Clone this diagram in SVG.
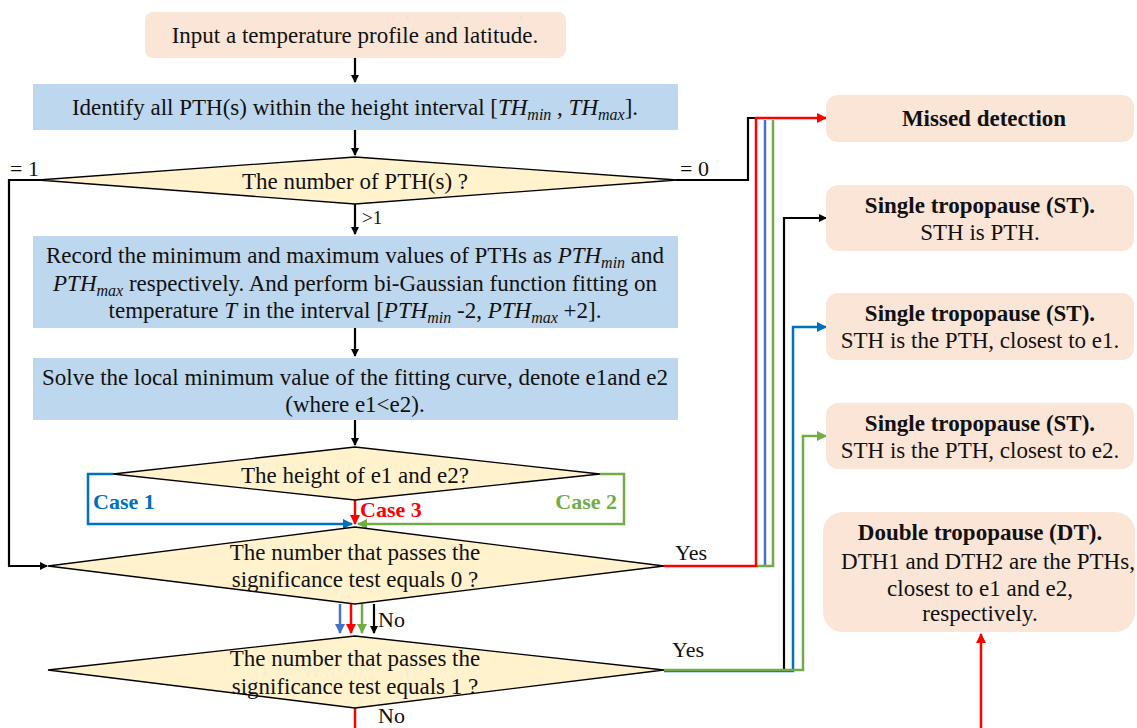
<svg xmlns="http://www.w3.org/2000/svg" width="1137" height="728" viewBox="0 0 1137 728">
<style>
text{font-family:"Liberation Serif","Times New Roman",serif;font-size:23px;fill:#111;}
.c{text-anchor:middle;}
.b{font-weight:bold;}
.i{font-style:italic;}
.s{font-style:italic;font-size:16px;}
.peach{fill:#FBE5D6;}
.blue{fill:#BDD7EE;}
.dia{fill:#FFF2CC;stroke:#000;stroke-width:1.3;}
.k{fill:none;stroke:#000;stroke-width:2.2;}
.r{fill:none;stroke:#FF0000;stroke-width:2.5;}
.lb{fill:none;stroke:#4472C4;stroke-width:2.5;}
.db{fill:none;stroke:#0070C0;stroke-width:2.5;}
.g{fill:none;stroke:#70AD47;stroke-width:2.5;}
</style>
<defs>
<marker id="ak" markerWidth="8" markerHeight="8" refX="7" refY="4" orient="auto" markerUnits="userSpaceOnUse"><path d="M0,0 L8,4 L0,8 z" fill="#000"/></marker>
<marker id="ar" markerWidth="10" markerHeight="10" refX="9" refY="5" orient="auto" markerUnits="userSpaceOnUse"><path d="M0,0 L10,5 L0,10 z" fill="#FF0000"/></marker>
<marker id="alb" markerWidth="10" markerHeight="10" refX="9" refY="5" orient="auto" markerUnits="userSpaceOnUse"><path d="M0,0 L10,5 L0,10 z" fill="#4472C4"/></marker>
<marker id="adb" markerWidth="10" markerHeight="10" refX="9" refY="5" orient="auto" markerUnits="userSpaceOnUse"><path d="M0,0 L10,5 L0,10 z" fill="#0070C0"/></marker>
<marker id="ag" markerWidth="10" markerHeight="10" refX="9" refY="5" orient="auto" markerUnits="userSpaceOnUse"><path d="M0,0 L10,5 L0,10 z" fill="#70AD47"/></marker>
</defs>

<g id="connectors">
<path class="k" d="M355,58 V82" marker-end="url(#ak)"/>
<path class="k" d="M355,130 V155" marker-end="url(#ak)"/>
<path class="k" d="M355,204 V234" marker-end="url(#ak)"/>
<path class="k" d="M355,328 V356" marker-end="url(#ak)"/>
<path class="k" d="M355,420 V445" marker-end="url(#ak)"/>
<path class="k" d="M44,180 H9 V566 H47" marker-end="url(#ak)"/>
<path class="k" d="M676,180 H748 V118 H757"/>
<path class="lb" d="M765,120 V566"/>
<path class="g" d="M773,120 V566 H757"/>
<path class="r" d="M664,566 H756 V118 H826" marker-end="url(#ar)"/>
<path class="k" d="M664,670 H784 V218 H826" marker-end="url(#ak)"/>
<path class="db" d="M664,671 H793 V327 H826" marker-end="url(#adb)"/>
<path class="g" d="M664,670 H803 V436 H826" marker-end="url(#ag)"/>
<path class="db" d="M113,474 H88 V524 H352" marker-end="url(#adb)"/>
<path class="g" d="M600,474 H624 V524 H358" marker-end="url(#ag)"/>
<path class="r" d="M355,500 V524" marker-end="url(#ar)"/>
<path class="lb" d="M340,604 V633" marker-end="url(#alb)"/>
<path class="r" d="M351,604 V633" marker-end="url(#ar)"/>
<path class="g" d="M362,604 V633" marker-end="url(#ag)"/>
<path class="k" d="M374,604 V633" marker-end="url(#ak)"/>
<path class="r" d="M355,708 V728"/>
<path class="r" d="M981,728 V634" marker-end="url(#ar)"/>
</g>

<g id="labels">
<text x="10" y="176" style="font-size:22px">= 1</text>
<text x="680" y="176" style="font-size:22px">= 0</text>
<text x="362" y="224" style="font-size:19px">&gt;1</text>
<text x="93" y="509" class="b" style="fill:#0070C0;font-size:22px">Case 1</text>
<text x="617" y="509" class="b" style="fill:#70AD47;text-anchor:end;font-size:22px">Case 2</text>
<text x="360" y="517" class="b" style="fill:#FF0000;font-size:22px">Case 3</text>
<text x="378" y="627" style="font-size:22px">No</text>
<text x="378" y="723" style="font-size:22px">No</text>
<text x="675" y="560" style="font-size:22px">Yes</text>
<text x="672" y="657" style="font-size:22px">Yes</text>
</g>

<g id="n-input">
<rect class="peach" x="145" y="12" width="421" height="46" rx="8"/>
<text class="c" x="355" y="43">Input a temperature profile and latitude.</text>
</g>

<g id="n-identify">
<rect class="blue" x="33" y="84" width="645" height="46"/>
<text class="c" x="355" y="115">Identify all PTH(s) within the height interval [<tspan class="i">TH</tspan><tspan class="s" dy="5">min</tspan><tspan dy="-5"> , </tspan><tspan class="i">TH</tspan><tspan class="s" dy="5">max</tspan><tspan dy="-5">].</tspan></text>
</g>

<g id="n-number">
<polygon class="dia" points="355,157 677,180 355,204 38,180"/>
<text class="c" x="355" y="189">The number of PTH(s) ?</text>
</g>

<g id="n-record">
<rect class="blue" x="33" y="236" width="645" height="92"/>
<text class="c" x="355" y="263">Record the minimum and maximum values of PTHs as <tspan class="i">PTH</tspan><tspan class="s" dy="5">min</tspan><tspan dy="-5"> and</tspan></text>
<text class="c" x="355" y="291"><tspan class="i">PTH</tspan><tspan class="s" dy="5">max</tspan><tspan dy="-5">  respectively. And perform bi-Gaussian function fitting on</tspan></text>
<text class="c" x="355" y="318">temperature <tspan class="i">T</tspan> in the interval [<tspan class="i">PTH</tspan><tspan class="s" dy="5">min</tspan><tspan dy="-5"> -2, </tspan><tspan class="i">PTH</tspan><tspan class="s" dy="5">max</tspan><tspan dy="-5"> +2].</tspan></text>
</g>

<g id="n-solve">
<rect class="blue" x="33" y="358" width="645" height="62"/>
<text class="c" x="355" y="385">Solve the local minimum value of the fitting curve, denote e1and e2</text>
<text class="c" x="355" y="412">(where e1&lt;e2).</text>
</g>

<g id="n-height">
<polygon class="dia" points="355,447 600,474 355,500 113,474"/>
<text class="c" x="355" y="483">The height of e1 and e2?</text>
</g>

<g id="n-pass0">
<polygon class="dia" points="355,527 664,566 355,604 48,566"/>
<text class="c" x="355" y="560">The number that passes the</text>
<text class="c" x="355" y="587">significance test equals 0 ?</text>
</g>

<g id="n-pass1">
<polygon class="dia" points="355,636 664,670 355,708 48,670"/>
<text class="c" x="355" y="666">The number that passes the</text>
<text class="c" x="355" y="694">significance test equals 1 ?</text>
</g>

<g id="n-missed">
<rect class="peach" x="826" y="95" width="308" height="47" rx="12"/>
<text class="c b" x="984" y="126">Missed detection</text>
</g>

<g id="n-st1">
<rect class="peach" x="826" y="185" width="308" height="66" rx="12"/>
<text class="c b" x="980" y="213">Single tropopause (ST).</text>
<text class="c" x="980" y="240">STH is PTH.</text>
</g>

<g id="n-st2">
<rect class="peach" x="826" y="293" width="308" height="67" rx="12"/>
<text class="c b" x="980" y="321">Single tropopause (ST).</text>
<text class="c" x="980" y="348">STH is the PTH, closest to e1.</text>
</g>

<g id="n-st3">
<rect class="peach" x="826" y="403" width="308" height="66" rx="12"/>
<text class="c b" x="980" y="431">Single tropopause (ST).</text>
<text class="c" x="980" y="458">STH is the PTH, closest to e2.</text>
</g>

<g id="n-dt">
<rect class="peach" x="823" y="512" width="312" height="120" rx="20"/>
<text class="c b" x="980" y="540">Double tropopause (DT).</text>
<text class="c" x="988" y="569">DTH1 and DTH2 are the PTHs,</text>
<text class="c" x="980" y="596">closest to e1 and e2,</text>
<text class="c" x="980" y="621">respectively.</text>
</g>
</svg>
